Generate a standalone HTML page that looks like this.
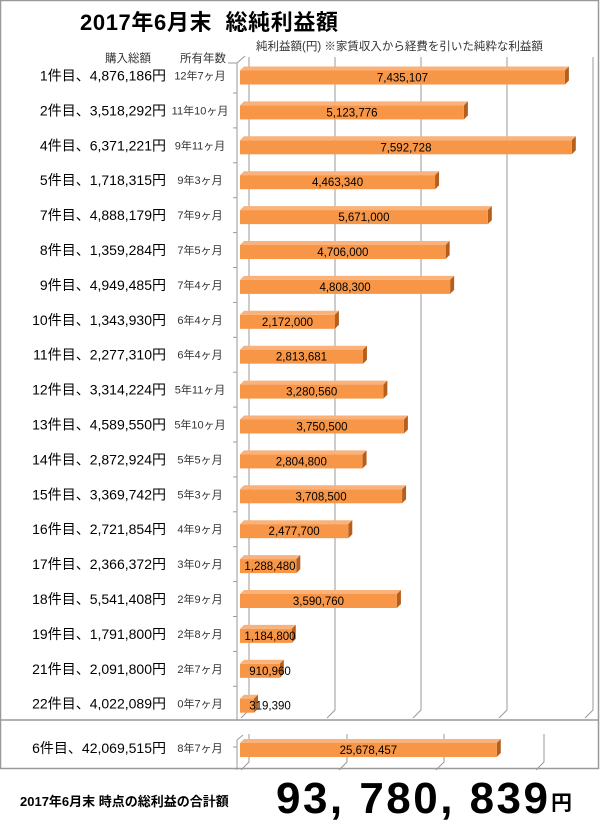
<!DOCTYPE html>
<html><head><meta charset="utf-8"><style>
body{margin:0;background:#fff;}
svg text{font-family:"Liberation Sans","Noto Sans CJK JP",sans-serif;}
</style></head><body>
<svg width="600" height="823" xmlns="http://www.w3.org/2000/svg">
<rect x="0.5" y="0.5" width="598" height="768" fill="#fff" stroke="#999" stroke-width="1.5"/>
<line x1="0" y1="720" x2="599" y2="720" stroke="#999" stroke-width="1.5"/>
<text x="80" y="30" font-size="22" font-weight="bold" xml:space="preserve" textLength="258" lengthAdjust="spacing">2017年6月末  総純利益額</text>
<text x="256" y="50" font-size="11.5" fill="#333">純利益額(円) ※家賃収入から経費を引いた純粋な利益額</text>
<text x="105" y="62" font-size="11.5" fill="#333">購入総額</text>
<text x="180" y="62" font-size="11.5" fill="#333">所有年数</text>
<g stroke="#999" stroke-width="1" fill="none">
<path d="M249 57V710L241 718"/><path d="M335 57V710L327 718"/><path d="M421 57V710L413 718"/><path d="M507 57V710L499 718"/><path d="M593 57V710L585 718"/>
<path d="M237 63V720"/><path d="M228 63L237 63L245 56"/>
<path d="M249 734V762L241 770"/><path d="M347 734V762L339 770"/><path d="M444 734V762L436 770"/><path d="M544 734V762L536 770"/>
<path d="M237 740V770"/><path d="M233 747H237"/><path d="M237 740L243 735"/>
</g>
<g id="rows"></g>
<text x="20" y="806" font-size="13" font-weight="bold">2017年6月末 時点の総利益の合計額</text>
<text x="276" y="813" font-size="44" font-weight="bold" textLength="272" lengthAdjust="spacing">93, 780, 839</text>
<text x="551" y="810" font-size="21" font-weight="bold">円</text>
</svg>
<script>
var d=[["1件目、4,876,186円","12年7ヶ月",7435107],["2件目、3,518,292円","11年10ヶ月",5123776],["4件目、6,371,221円","9年11ヶ月",7592728],["5件目、1,718,315円","9年3ヶ月",4463340],["7件目、4,888,179円","7年9ヶ月",5671000],["8件目、1,359,284円","7年5ヶ月",4706000],["9件目、4,949,485円","7年4ヶ月",4808300],["10件目、1,343,930円","6年4ヶ月",2172000],["11件目、2,277,310円","6年4ヶ月",2813681],["12件目、3,314,224円","5年11ヶ月",3280560],["13件目、4,589,550円","5年10ヶ月",3750500],["14件目、2,872,924円","5年5ヶ月",2804800],["15件目、3,369,742円","5年3ヶ月",3708500],["16件目、2,721,854円","4年9ヶ月",2477700],["17件目、2,366,372円","3年0ヶ月",1288480],["18件目、5,541,408円","2年9ヶ月",3590760],["19件目、1,791,800円","2年8ヶ月",1184800],["21件目、2,091,800円","2年7ヶ月",910960],["22件目、4,022,089円","0年7ヶ月",319390]];
var s="";
function bar(y,w,v,lbl,yr){
 var x=240,h=14,t=y-h/2+2;
 s+='<polygon points="'+x+','+t+' '+(x+4)+','+(t-4)+' '+(x+w+4)+','+(t-4)+' '+(x+w)+','+t+'" fill="#FAB27A"/>';
 s+='<polygon points="'+(x+w)+','+t+' '+(x+w+4)+','+(t-4)+' '+(x+w+4)+','+(t+h-4)+' '+(x+w)+','+(t+h)+'" fill="#B65F1C"/>';
 s+='<rect x="'+x+'" y="'+t+'" width="'+w+'" height="'+h+'" fill="#F79646"/>';
 var tx=w<60? x+Math.max(w/2,30): x+w/2;
 s+='<text x="'+tx+'" y="'+(t+11)+'" font-size="11.5" text-anchor="middle">'+v.toLocaleString("en-US")+'</text>';
 s+='<text x="166" y="'+(y+5)+'" font-size="14" text-anchor="end">'+lbl+'</text>';
 s+='<text x="200" y="'+(y+4)+'" font-size="11" text-anchor="middle" fill="#333">'+yr+'</text>';
}
d.forEach(function(r,i){var y=75.5+34.9*i;bar(y,r[2]*43.7e-6,r[2],r[0],r[1]);
 if(i<18)s+='<line x1="233" x2="237" y1="'+(y+17.5)+'" y2="'+(y+17.5)+'" stroke="#999"/>';});
bar(748,25678457*10e-6,25678457,"6件目、42,069,515円","8年7ヶ月");
document.getElementById("rows").innerHTML=s;
</script>
</body></html>
